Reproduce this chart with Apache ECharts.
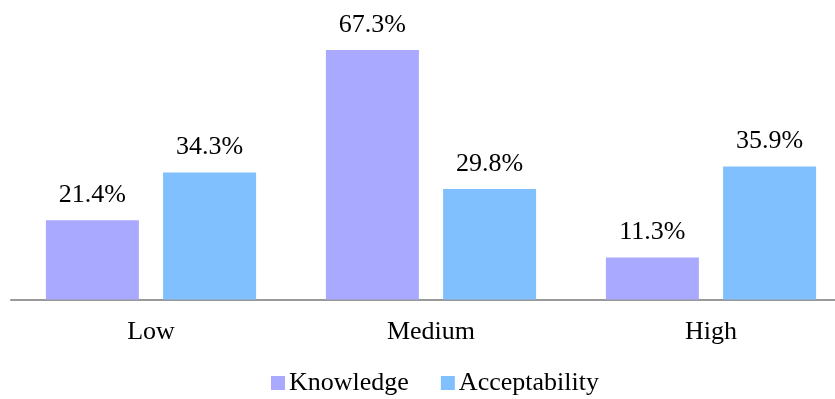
<!DOCTYPE html>
<html>
<head>
<meta charset="utf-8">
<script src="https://cdn.jsdelivr.net/npm/echarts@6/dist/echarts.min.js"></script>
<style>
	html, body { margin: 0; padding: 0; background: #fff; }
	#chart { width: 835px; height: 399px; }
</style>
</head>
<body>
<div id="chart"></div>
<script>
// 数据
var categories = ['Low', 'Medium', 'High']
var knowledge = [21.4, 67.3, 11.3]
var acceptability = [34.3, 29.8, 35.9]

var font = 'Liberation Serif, Times New Roman, serif'

var myChart = echarts.init(document.getElementById('chart'))
var label = {
	show: true,
	position: 'top',
	distance: 12,
	color: '#000',
	fontFamily: font,
	fontSize: 26,
	formatter: function(p) {
		return p.value.toFixed(1) + '%'
	}
}
var option = {
	animation: false,
	textStyle: { fontFamily: font },
	grid: { left: 11, top: 3, width: 840, height: 296.5, outerBoundsMode: 'none', containLabel: false },
	legend: {
		bottom: -2,
		left: 266,
		itemWidth: 14,
		itemHeight: 14,
		itemGap: 32,
		icon: 'rect',
		textStyle: { fontFamily: font, fontSize: 26, color: '#000', padding: [0, 0, 0, -1] },
		data: ['Knowledge', 'Acceptability']
	},
	xAxis: {
		type: 'category',
		data: categories,
		axisLine: { lineStyle: { color: '#999', width: 2 } },
		axisTick: { show: false },
		axisLabel: { color: '#000', fontFamily: font, fontSize: 26, margin: 20 }
	},
	yAxis: {
		type: 'value',
		min: 0,
		max: 80,
		show: false,
		splitLine: { show: false }
	},
	series: [{
		name: 'Knowledge',
		type: 'bar',
		data: knowledge,
		barWidth: 93,
		barGap: '26%',
		itemStyle: { color: '#A9A9FF' },
		label: label
	}, {
		name: 'Acceptability',
		type: 'bar',
		data: acceptability,
		barWidth: 93,
		itemStyle: { color: '#80C0FF' },
		label: label
	}]
}
myChart.setOption(option)
</script>
</body>
</html>
